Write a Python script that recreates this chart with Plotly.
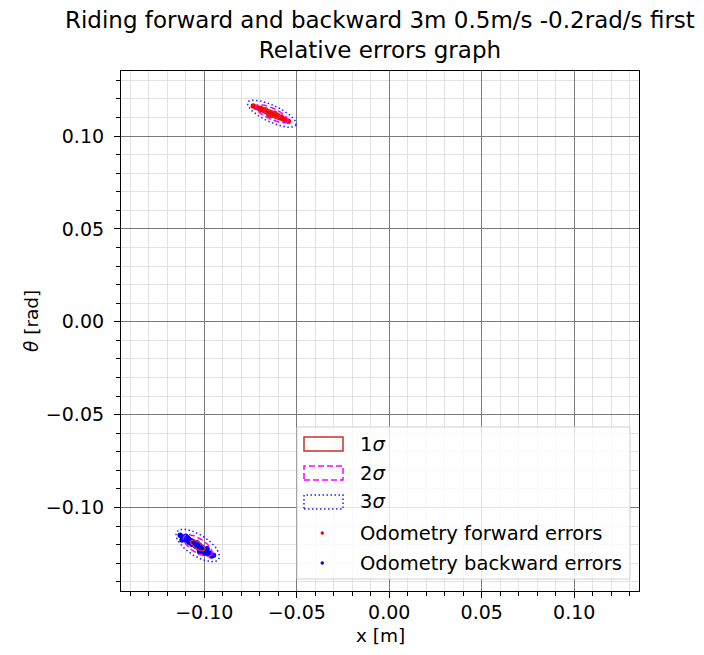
import numpy as np
import plotly.graph_objects as go

# Odometry relative errors (x [m], theta [rad])
fwd_x = [-0.0735, -0.0720, -0.0705, -0.0695, -0.0690, -0.0680, -0.0670, -0.0668,
         -0.0660, -0.0655, -0.0650, -0.0645, -0.0640, -0.0638, -0.0632, -0.0625,
         -0.0620, -0.0615, -0.0610, -0.0605, -0.0600, -0.0592, -0.0585, -0.0580,
         -0.0570, -0.0560, -0.0545]
fwd_y = [0.1162, 0.1155, 0.1150, 0.1148, 0.1140, 0.1142, 0.1133, 0.1140,
         0.1130, 0.1125, 0.1115, 0.1122, 0.1118, 0.1110, 0.1120, 0.1112,
         0.1122, 0.1110, 0.1105, 0.1112, 0.1103, 0.1098, 0.1102, 0.1095,
         0.1090, 0.1085, 0.1080]

bwd_x = [-0.1130, -0.1115, -0.1120, -0.1100, -0.1095, -0.1090, -0.1085, -0.1080,
         -0.1070, -0.1065, -0.1060, -0.1050, -0.1045, -0.1040, -0.1035, -0.1030,
         -0.1025, -0.1020, -0.1015, -0.1005, -0.0998, -0.0990, -0.0985, -0.0980,
         -0.0970, -0.0960, -0.0950]
bwd_y = [-0.1150, -0.1160, -0.1175, -0.1155, -0.1180, -0.1165, -0.1170, -0.1190,
         -0.1180, -0.1200, -0.1185, -0.1195, -0.1210, -0.1190, -0.1200, -0.1220,
         -0.1238, -0.1215, -0.1232, -0.1225, -0.1245, -0.1235, -0.1222, -0.1250,
         -0.1245, -0.1262, -0.1258]

# Error ellipse parameters (forward, backward): centre, 1-sigma semi-axes, tilt
ell_cx = [-0.0635, -0.1035]
ell_cy = [0.1120, -0.1205]
ell_major = [0.0048, 0.0045]
ell_minor = [0.0015, 0.0019]
ell_angle_deg = [-25.0, -33.0]

sigma_levels = [1, 2, 3]
sigma_labels = ["1<i>σ</i>", "2<i>σ</i>", "3<i>σ</i>"]
sigma_colors = ["#c8302c", "#ff00ff", "#1f1fff"]
sigma_dash = ["solid", "6px,3px", "1.5px,2.5px"]

point_labels = ["Odometry forward errors", "Odometry backward errors"]
point_colors = ["#ff0000", "#0000ff"]

FONT = "DejaVu Sans"
W, H = 704, 655
ML, MR, MT, MB = 121, 65, 71, 64
PW, PH = W - ML - MR, H - MT - MB

fig = go.Figure()

for xs, ys, col in [(fwd_x, fwd_y, point_colors[0]), (bwd_x, bwd_y, point_colors[1])]:
    fig.add_trace(go.Scatter(x=xs, y=ys, mode="markers",
                             marker=dict(size=5.5, color=col, line=dict(width=0)),
                             showlegend=False, hoverinfo="skip"))

t = np.linspace(0, 2 * np.pi, 240)
for cx, cy, a, b, ang in zip(ell_cx, ell_cy, ell_major, ell_minor, ell_angle_deg):
    th = np.deg2rad(ang)
    for k, col, dash in zip(sigma_levels, sigma_colors, sigma_dash):
        ex = cx + k * a * np.cos(t) * np.cos(th) - k * b * np.sin(t) * np.sin(th)
        ey = cy + k * a * np.cos(t) * np.sin(th) + k * b * np.sin(t) * np.cos(th)
        fig.add_trace(go.Scatter(x=ex, y=ey, mode="lines",
                                 line=dict(color=col, width=1.5, dash=dash),
                                 showlegend=False, hoverinfo="skip"))

axis_style = dict(
    range=[-0.145, 0.135], tick0=0, dtick=0.05, tickformat=".2f",
    showgrid=True, gridcolor="#7a7a7a", gridwidth=1.3, zeroline=False,
    showline=True, linecolor="black", linewidth=1.2, mirror=True,
    ticks="outside", ticklen=6, tickwidth=1, tickcolor="black",
    tickfont=dict(family=FONT, size=19, color="black"),
    minor=dict(tick0=0, dtick=0.01, showgrid=True, gridcolor="#e2e2e2",
               gridwidth=1, ticks="outside", ticklen=3.5, tickcolor="black"),
    automargin=False,
)
xaxis = dict(axis_style, ticklabelstandoff=-2)
yaxis = dict(axis_style, ticklabelstandoff=6)


def px_x(p):
    return (p - ML) / PW


def px_y(p):
    return (H - MB - p) / PH


shapes = []
annotations = []

# legend frame
lx0, lx1, ly0, ly1 = 297, 630, 427, 579
shapes.append(dict(type="rect", xref="paper", yref="paper",
                   x0=px_x(lx0), x1=px_x(lx1), y0=px_y(ly1), y1=px_y(ly0),
                   line=dict(color="#d0d0d0", width=1),
                   fillcolor="rgba(255,255,255,0.8)", layer="above"))
row_y = [444, 473, 502, 533, 563]
text_x = 358
legend_font = dict(family=FONT, size=19.5, color="black")
for i, (lab, col, dash) in enumerate(zip(sigma_labels, sigma_colors, sigma_dash)):
    yc = row_y[i]
    shapes.append(dict(type="rect", xref="paper", yref="paper",
                       x0=px_x(304), x1=px_x(343), y0=px_y(yc + 7), y1=px_y(yc - 7),
                       line=dict(color=col, width=1.5, dash=dash),
                       fillcolor="rgba(0,0,0,0)", layer="above"))
    annotations.append(dict(text=lab, xref="paper", yref="paper", x=px_x(text_x),
                            y=px_y(yc), xanchor="left", yanchor="middle", showarrow=False,
                            font=legend_font))
for j, (lab, col) in enumerate(zip(point_labels, point_colors)):
    yc = row_y[3 + j]
    shapes.append(dict(type="circle", xref="paper", yref="paper",
                       x0=px_x(320.5), x1=px_x(324), y0=px_y(yc + 1.75), y1=px_y(yc - 1.75),
                       line=dict(width=0), fillcolor=col, layer="above"))
    annotations.append(dict(text=lab, xref="paper", yref="paper", x=px_x(text_x),
                            y=px_y(yc), xanchor="left", yanchor="middle", showarrow=False,
                            font=legend_font))

# titles and axis labels
annotations.append(dict(text="Riding forward and backward 3m 0.5m/s -0.2rad/s first<br>Relative errors graph",
                        xref="paper", yref="paper", x=0.5, y=1, xanchor="center", yanchor="bottom",
                        yshift=6, showarrow=False, align="center",
                        font=dict(family=FONT, size=23, color="black")))
annotations.append(dict(text="x [m]", xref="paper", yref="paper", x=0.5, y=px_y(635),
                        xanchor="center", yanchor="middle", showarrow=False,
                        font=dict(family=FONT, size=18.5, color="black")))
annotations.append(dict(text="<i>θ</i> [rad]", xref="paper", yref="paper", x=px_x(31), y=px_y(321),
                        xanchor="center", yanchor="middle", showarrow=False, textangle=-90,
                        font=dict(family=FONT, size=18.5, color="black")))

fig.update_layout(
    width=W, height=H,
    margin=dict(l=ML, r=MR, t=MT, b=MB, autoexpand=False),
    paper_bgcolor="white", plot_bgcolor="white",
    xaxis=xaxis, yaxis=yaxis,
    shapes=shapes, annotations=annotations,
    showlegend=False,
    font=dict(family=FONT, color="black"),
)

fig.write_html("out.html")
